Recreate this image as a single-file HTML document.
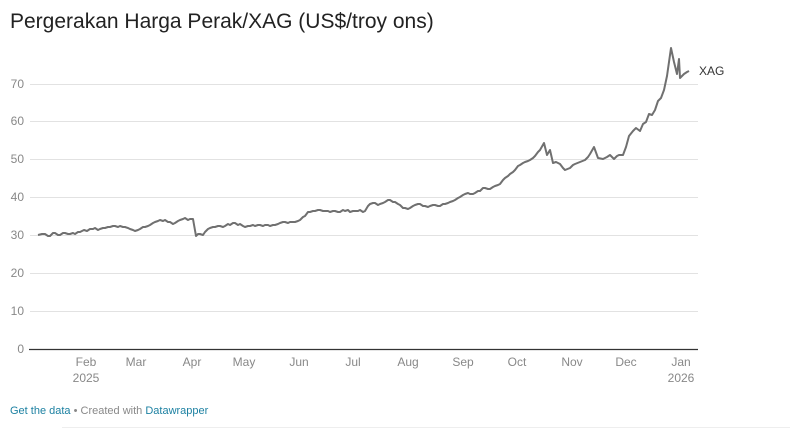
<!DOCTYPE html>
<html><head><meta charset="utf-8"><style>
body{margin:0;background:#fff;font-family:"Liberation Sans",Arial,sans-serif;}
</style></head><body>
<svg width="790" height="429" xmlns="http://www.w3.org/2000/svg" font-family="Liberation Sans, Arial, sans-serif">
<text x="10" y="28" font-size="21" fill="#222">Pergerakan Harga Perak/XAG (US$/troy ons)</text>
<g stroke="#e2e2e2" stroke-width="1">
<line x1="30" y1="84.5" x2="698" y2="84.5"/><line x1="30" y1="121.5" x2="698" y2="121.5"/>
<line x1="30" y1="159.5" x2="698" y2="159.5"/><line x1="30" y1="197.5" x2="698" y2="197.5"/>
<line x1="30" y1="235.5" x2="698" y2="235.5"/><line x1="30" y1="273.5" x2="698" y2="273.5"/>
<line x1="30" y1="311.5" x2="698" y2="311.5"/>
</g>
<line x1="29" y1="349.5" x2="698" y2="349.5" stroke="#333" stroke-width="1.3"/>
<g font-size="12" fill="#888" text-anchor="end">
<text x="24" y="88">70</text><text x="24" y="125">60</text><text x="24" y="163">50</text>
<text x="24" y="201">40</text><text x="24" y="239">30</text><text x="24" y="277">20</text>
<text x="24" y="315">10</text><text x="24" y="353">0</text>
</g>
<g font-size="12" fill="#888" text-anchor="middle">
<text x="86" y="366">Feb</text><text x="86" y="382">2025</text>
<text x="136" y="366">Mar</text><text x="192" y="366">Apr</text><text x="244" y="366">May</text>
<text x="299" y="366">Jun</text><text x="353" y="366">Jul</text><text x="408" y="366">Aug</text>
<text x="463" y="366">Sep</text><text x="517" y="366">Oct</text><text x="572" y="366">Nov</text>
<text x="626" y="366">Dec</text><text x="681" y="366">Jan</text><text x="681" y="382">2026</text>
</g>
<polyline fill="none" stroke="#707070" stroke-width="2" stroke-linejoin="round" points="38,235 42,234 45,234 48,236 50,236 53,233 55,233 58,235 60,235 63,233 65,233 68,234 70,234 73,233 75,234 78,232 80,232 84,230 87,231 90,229 93,229 95,228 98,230 100,229 103,228 105,228 108,227 110,227 113,226 115,226 118,227 120,226 123,227 125,227 128,228 130,229 133,230 135,231 138,230 140,229 143,227 145,227 148,226 150,225 153,223 155,222 158,221 160,220 163,221 165,220 168,222 170,222 173,224 175,223 178,221 180,220 183,219 185,218 188,220 190,219 193,219 196,236 198,234 200,234 203,235 205,232 208,229 210,228 213,227 215,227 218,226 220,226 223,227 225,226 228,224 230,225 233,223 235,223 238,225 240,224 243,226 245,227 248,226 250,226 253,225 255,226 258,225 260,225 263,226 265,225 268,225 270,226 273,225 275,225 278,224 280,223 283,222 285,222 288,223 290,222 293,222 295,222 298,221 300,220 303,217 305,216 308,212 310,212 313,211 315,211 318,210 320,210 323,211 325,211 328,211 330,212 333,211 335,211 338,212 340,212 343,210 345,211 348,210 350,212 353,211 355,211 358,211 360,210 363,212 365,211 368,206 370,204 373,203 375,203 378,205 380,204 383,203 385,202 388,200 390,200 393,202 395,202 398,204 400,205 403,208 405,208 408,209 410,208 413,206 415,205 418,204 420,204 423,206 425,206 428,207 430,206 433,205 435,205 438,206 440,206 443,204 445,204 448,203 450,202 453,201 455,200 458,198 460,197 463,195 465,194 468,193 470,194 473,194 475,193 478,191 480,191 483,188 485,188 488,189 490,189 493,187 495,186 498,185 500,184 503,180 505,178 508,176 510,174 513,172 515,170 518,166 520,165 523,163 525,162 528,161 530,160 533,158 535,156 538,152 540,150 544,143 547,155 550,150 553,163 556,162 560,164 563,168 565,170 570,168 573,165 575,164 580,162 585,160 588,157 590,154 594,147 598,158 603,159 607,157 610,155 614,159 617,156 619,155 623,155 626,147 629,136 633,131 636,128 640,131 643,124 646,122 649,114 652,115 655,110 658,101 661,98 664,90 667,76 671,48 674,62 677,74 679,59 680,78 684,74 687,72 689,71"/>
<text x="699" y="75" font-size="12" fill="#333">XAG</text>
<text x="10" y="414" font-size="11" fill="#888"><tspan fill="#1d81a2">Get the data</tspan> • Created with <tspan fill="#1d81a2">Datawrapper</tspan></text>
<line x1="62" y1="427.5" x2="790" y2="427.5" stroke="#eee" stroke-width="1"/>
</svg>
</body></html>
